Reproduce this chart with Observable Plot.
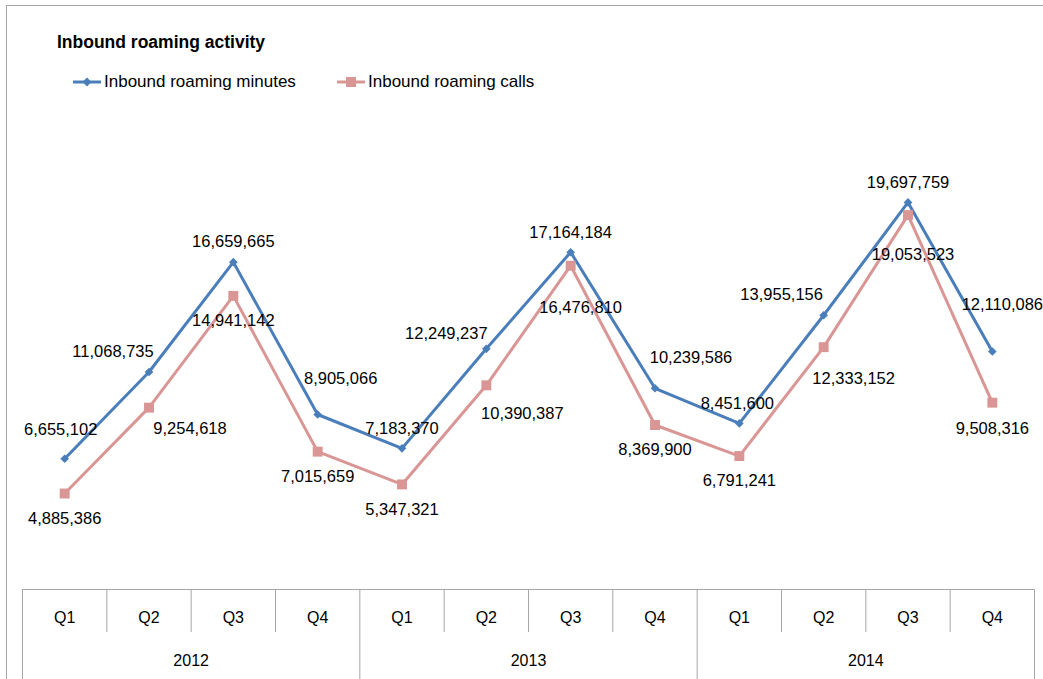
<!DOCTYPE html>
<html>
<head>
<meta charset="utf-8">
<script src="https://cdn.jsdelivr.net/npm/d3@7"></script>
<script src="https://cdn.jsdelivr.net/npm/@observablehq/plot@0.6"></script>
<style>
  html, body { margin: 0; padding: 0; background: #fff; }
  body { width: 1043px; height: 679px; overflow: hidden; position: relative; font-family: "Liberation Sans", Arial, sans-serif; color: #000; }
  #frame { position: absolute; left: 6px; top: 5px; width: 1200px; height: 900px; border: 1px solid #a6a6a6; box-sizing: border-box; }
  #header { position: relative; height: 100px; }
  #title { position: absolute; left: 57px; top: 32px; font-weight: bold; font-size: 17.5px; line-height: 20px; white-space: nowrap; }
  .legend-item { position: absolute; top: 72px; height: 20px; line-height: 20px; font-size: 17px; white-space: nowrap; display: flex; align-items: center; }
  .legend-item svg { margin-right: 3px; }
  #chart { position: relative; }
</style>
</head>
<body>
<div id="frame"></div>
<div id="header">
  <div id="title">Inbound roaming activity</div>
  <div id="legend"></div>
</div>
<div id="chart"></div>
<script>
// ---- data ----
const years = ["2012", "2013", "2014"];
const quarters = ["Q1", "Q2", "Q3", "Q4"];
const minutes = [6655102, 11068735, 16659665, 8905066, 7183370, 12249237, 17164184, 10239586, 8451600, 13955156, 19697759, 12110086];
const calls   = [4885386, 9254618, 14941142, 7015659, 5347321, 10390387, 16476810, 8369900, 6791241, 12333152, 19053523, 9508316];
const seriesNames = ["Inbound roaming minutes", "Inbound roaming calls"];

// ---- label nudges (pixels, layout only) ----
const minutesLabelNudge = [[-4,-29],[-36,-20],[0,-20],[23,-36],[0,-20],[-40,-15],[0,-20],[36,-31],[-2,-20],[-42,-21],[0,-20],[10,-47]];
const callsLabelNudge   = [[0,25],[41,21],[0,25],[0,25],[0,25],[36,28],[10,42],[0,25],[0,25],[30,32],[5,40],[0,26]];

// ---- styles ----
const blue = "#4A7EBB";
const pink = "#D99694";
const gridColor = "#a6a6a6";
const fontFamily = '"Liberation Sans", Arial, sans-serif';

// build table
const rows = [];
years.forEach((yr, yi) => quarters.forEach((q, qi) => {
  const i = yi * quarters.length + qi;
  rows.push({i, year: yr, quarter: q, minutes: minutes[i], calls: calls[i]});
}));
const n = rows.length;
const fmt = d3.format(",");

const quarterDividers = rows.filter(d => d.quarter !== quarters[0]).map(d => d.i - 0.5);
const yearDividers = rows.filter(d => d.quarter === quarters[0]).map(d => d.i - 0.5).concat([n - 0.5]);

const labelMarks = [];
rows.forEach((d, k) => {
  labelMarks.push(Plot.text([d], {x: "i", y: "minutes", text: d => fmt(d.minutes), dx: minutesLabelNudge[k][0], dy: minutesLabelNudge[k][1], fontSize: 16.5, fill: "#000"}));
  labelMarks.push(Plot.text([d], {x: "i", y: "calls", text: d => fmt(d.calls), dx: callsLabelNudge[k][0], dy: callsLabelNudge[k][1], fontSize: 16.5, fill: "#000"}));
});

const chart = Plot.plot({
  width: 1043,
  height: 579,
  marginLeft: 22,
  marginRight: 9,
  marginTop: 96,
  marginBottom: 90,
  style: {fontFamily, fontSize: "16px", background: "transparent", overflow: "visible"},
  x: {type: "linear", domain: [-0.5, n - 0.5], axis: null},
  y: {domain: [0, 20000000], axis: null},
  marks: [
    // category table axis
    Plot.ruleY([0], {stroke: gridColor, strokeWidth: 1}),
    Plot.ruleX(quarterDividers, {stroke: gridColor, strokeWidth: 1, insetTop: 393, insetBottom: -43}),
    Plot.ruleX(yearDividers, {stroke: gridColor, strokeWidth: 1, insetTop: 393, insetBottom: -90}),
    Plot.text(rows, {x: "i", text: "quarter", frameAnchor: "bottom", dy: 33, fontSize: 16, fill: "#000"}),
    Plot.text(rows, Plot.groupZ({x: "mean", text: "first"}, {x: "i", z: "year", text: "year", frameAnchor: "bottom", dy: 76, fontSize: 16, fill: "#000"})),
    // series
    Plot.line(rows, {x: "i", y: "minutes", stroke: blue, strokeWidth: 3}),
    Plot.dot(rows, {x: "i", y: "minutes", symbol: "diamond2", r: 3.9, fill: blue, stroke: "none"}),
    Plot.line(rows, {x: "i", y: "calls", stroke: pink, strokeWidth: 3}),
    Plot.dot(rows, {x: "i", y: "calls", symbol: "square", r: 5.6, fill: pink, stroke: "none"}),
    ...labelMarks
  ]
});
document.getElementById("chart").appendChild(chart);

// legend
const legend = document.getElementById("legend");
const legendItems = [
  {name: seriesNames[0], color: blue, marker: "diamond", left: 73},
  {name: seriesNames[1], color: pink, marker: "square", left: 337}
];
legendItems.forEach(it => {
  const div = document.createElement("div");
  div.className = "legend-item";
  div.style.left = it.left + "px";
  const markerSvg = it.marker === "diamond"
    ? `<polygon points="14,1.5 18.5,6 14,10.5 9.5,6" fill="${it.color}"/>`
    : `<rect x="9" y="1" width="10" height="10" fill="${it.color}"/>`;
  div.innerHTML = `<svg width="28" height="12" viewBox="0 0 28 12"><line x1="0" x2="28" y1="6" y2="6" stroke="${it.color}" stroke-width="3"/>${markerSvg}</svg><span>${it.name}</span>`;
  legend.appendChild(div);
});
</script>
</body>
</html>
